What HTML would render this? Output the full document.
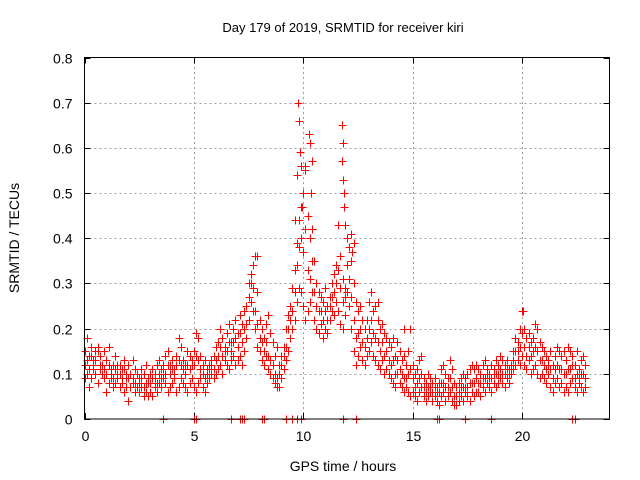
<!DOCTYPE html>
<html><head><meta charset="utf-8"><style>
html,body{margin:0;padding:0;background:#fff;}
svg{display:block;font-family:"Liberation Sans",sans-serif;}
</style></head><body>
<svg id="chart" width="640" height="480">
<text x="343" y="32" font-size="13" text-anchor="middle">Day 179 of 2019, SRMTID for receiver kiri</text>
<text x="343" y="471" font-size="14" text-anchor="middle">GPS time / hours</text>
<text transform="translate(19,238) rotate(-90)" font-size="14" text-anchor="middle">SRMTID / TECUs</text>
<g id="grid"></g><g id="ticks"></g><g id="marks"></g>
<rect x="84.5" y="57.5" width="525" height="361.5" fill="none" stroke="#000" stroke-width="1" shape-rendering="crispEdges"/>
</svg>
<script>
const xTicks=[0,5,10,15,20];
const yTicks=[0,0.1,0.2,0.3,0.4,0.5,0.6,0.7,0.8];
const yTickLabels=["0","0.1","0.2","0.3","0.4","0.5","0.6","0.7","0.8"];
const step=0.1;
const seriesHigh=[.15,.18,.14,.16,.13,.15,.16,.14,.12,.15,.13,.16,.11,.12,.14,.10,.12,.11,.13,.10,.12,.10,.13,.11,.10,.09,.11,.10,.12,.09,.10,.11,.09,.12,.13,.11,.12,.14,.15,.12,.13,.11,.14,.18,.16,.13,.12,.15,.14,.13,.15,.19,.18,.14,.12,.13,.11,.12,.13,.14,.16,.17,.20,.18,.15,.19,.21,.17,.20,.22,.19,.23,.21,.24,.25,.30,.32,.34,.36,.28,.22,.20,.18,.21,.23,.19,.17,.14,.16,.12,.14,.16,.20,.23,.25,.29,.33,.39,.44,.47,.50,.56,.45,.40,.42,.35,.30,.28,.27,.26,.29,.25,.27,.30,.32,.34,.43,.36,.31,.29,.40,.38,.35,.30,.26,.24,.25,.22,.20,.22,.26,.28,.24,.25,.22,.20,.21,.19,.18,.17,.16,.18,.14,.17,.15,.13,.14,.12,.15,.20,.12,.10,.11,.13,.14,.09,.08,.10,.09,.08,.09,.07,.08,.11,.12,.10,.09,.13,.11,.08,.07,.08,.09,.10,.09,.10,.11,.12,.11,.12,.11,.10,.12,.13,.11,.10,.12,.11,.13,.12,.14,.13,.12,.13,.11,.12,.15,.18,.17,.20,.24,.20,.18,.19,.17,.18,.21,.20,.17,.16,.15,.14,.13,.15,.12,.14,.16,.15,.14,.15,.13,.16,.15,.14,.12,.15,.11,.13,.14,.12];
const seriesMid=[.12,.13,.11,.14,.12,.13,.15,.11,.12,.11,.10,.12,.10,.09,.11,.12,.10,.09,.11,.09,.09,.10,.09,.08,.10,.08,.09,.07,.08,.08,.08,.09,.10,.08,.10,.09,.11,.10,.12,.10,.11,.10,.12,.13,.12,.11,.10,.12,.11,.12,.12,.14,.13,.11,.10,.09,.10,.11,.12,.11,.13,.14,.16,.14,.16,.15,.17,.15,.17,.18,.16,.19,.17,.20,.21,.27,.30,.29,.24,.21,.18,.17,.15,.17,.14,.13,.12,.10,.09,.10,.12,.14,.16,.20,.22,.24,.28,.34,.38,.40,.37,.42,.33,.31,.35,.28,.25,.24,.24,.22,.24,.22,.25,.27,.28,.30,.33,.29,.26,.27,.34,.31,.27,.22,.18,.19,.20,.17,.16,.18,.20,.22,.19,.18,.17,.15,.17,.14,.15,.13,.12,.13,.10,.13,.11,.10,.09,.09,.10,.11,.09,.07,.08,.09,.10,.07,.06,.07,.07,.06,.07,.06,.06,.08,.08,.07,.07,.09,.07,.05,.05,.06,.07,.07,.07,.07,.08,.08,.08,.09,.08,.08,.09,.09,.10,.09,.09,.10,.10,.10,.11,.10,.10,.11,.10,.11,.13,.15,.15,.16,.19,.16,.14,.16,.14,.15,.16,.15,.13,.13,.12,.11,.12,.11,.09,.11,.12,.11,.11,.10,.10,.11,.11,.12,.09,.10,.09,.10,.10,.09];
const seriesLow=[.09,.10,.07,.09,.11,.10,.08,.12,.10,.09,.06,.08,.09,.07,.08,.09,.07,.08,.06,.07,.04,.07,.08,.06,.07,.06,.07,.05,.06,.05,.06,.05,.07,.06,.08,.07,.09,.08,.06,.07,.08,.09,.06,.07,.09,.08,.07,.06,.08,.09,.07,.06,.08,.09,.07,.06,.08,.09,.10,.09,.10,.11,.12,.10,.13,.12,.11,.13,.14,.12,.13,.14,.12,.15,.18,.22,.26,.24,.20,.16,.15,.13,.12,.14,.11,.10,.09,.08,.07,.07,.09,.11,.13,.15,.18,.20,.22,.26,.29,.28,.25,.22,.24,.26,.28,.22,.20,.19,.21,.18,.20,.19,.22,.24,.23,.26,.24,.21,.20,.23,.28,.25,.20,.15,.12,.14,.16,.13,.12,.14,.15,.17,.14,.13,.12,.11,.13,.10,.11,.10,.09,.08,.07,.10,.08,.07,.06,.07,.06,.05,.06,.05,.04,.06,.07,.05,.04,.05,.06,.04,.05,.04,.03,.05,.06,.04,.05,.06,.04,.03,.03,.04,.05,.04,.06,.05,.04,.06,.05,.06,.06,.05,.07,.06,.08,.07,.06,.08,.07,.08,.09,.08,.07,.09,.08,.10,.11,.12,.13,.12,.14,.12,.11,.13,.10,.11,.12,.10,.09,.10,.09,.08,.10,.07,.06,.08,.09,.07,.08,.06,.07,.06,.08,.09,.07,.06,.08,.07,.06,.07];
const peakTimes=[9.6,9.7,9.75,9.8,9.85,9.9,9.95,10.1,10.25,10.3,10.35,10.4,11.75,11.78,11.8,11.82,11.85,11.87,11.9,12.2,12.25,12.3,7.9,13.4,14.6,20.05];
const peakValues=[.44,.54,.70,.66,.59,.56,.47,.55,.63,.61,.50,.57,.65,.57,.61,.53,.50,.47,.43,.41,.37,.39,.36,.26,.20,.24];
const zeroTimes=[3.6,5.0,5.1,6.7,7.1,7.2,7.3,8.1,8.2,9.2,9.5,9.7,9.9,11.8,12.4,16.1,16.2,17.4,18.6,22.3,22.4];

const X0=84.5,X1=609.5,Y0=419,Y1=57.5;
const xs=t=>X0+(X1-X0)*t/24;
const ys=v=>Y0-(Y0-Y1)*v/0.8;
const NS='http://www.w3.org/2000/svg';
const grid=document.getElementById('grid'),ticks=document.getElementById('ticks'),marks=document.getElementById('marks');
function mk(tag,a,p){const e=document.createElementNS(NS,tag);for(const k in a)e.setAttribute(k,a[k]);p.appendChild(e);return e;}
xTicks.forEach(t=>{const x=Math.round(xs(t))+0.5;
 if(t>0){const g=mk('line',{x1:x,y1:Y0,x2:x,y2:Y1,stroke:'#a0a0a0','stroke-dasharray':'2,3','shape-rendering':'crispEdges'},grid);
 
 }
 mk('line',{x1:x,y1:Y0,x2:x,y2:Y0-6,stroke:'#000','shape-rendering':'crispEdges'},ticks);
 mk('line',{x1:x,y1:Y1,x2:x,y2:Y1+6,stroke:'#000','shape-rendering':'crispEdges'},ticks);
 const l=mk('text',{x:x,y:Y0+22,'font-size':14,'text-anchor':'middle'},ticks);l.textContent=t;
 
 });
yTicks.forEach((v,i)=>{const y=Math.round(ys(v))+0.5;
 if(v>0&&v<0.8){const g=mk('line',{x1:X0,y1:y,x2:X1,y2:y,stroke:'#a0a0a0','stroke-dasharray':'2,3','shape-rendering':'crispEdges'},grid);
 
 }
 mk('line',{x1:X0,y1:y,x2:X0+6,y2:y,stroke:'#000','shape-rendering':'crispEdges'},ticks);
 mk('line',{x1:X1,y1:y,x2:X1-6,y2:y,stroke:'#000','shape-rendering':'crispEdges'},ticks);
 const l=mk('text',{x:X0-12,y:y+5,'font-size':14,'text-anchor':'end'},ticks);l.textContent=yTickLabels[i];
 
 });
let d='';
function cross(t,v){const x=Math.round(xs(t))+0.5,y=Math.round(ys(v))+0.5;d+=`M${x-4} ${y}h8M${x} ${y-4}v8`;}
[seriesHigh,seriesMid,seriesLow].forEach(s=>s.forEach((v,i)=>cross(i*step,v)));
peakValues.forEach((v,i)=>cross(peakTimes[i],v));
zeroTimes.forEach(t=>cross(t,0));
const p=mk('path',{d:d,stroke:'#ff0000','stroke-width':1,fill:'none','shape-rendering':'crispEdges'},marks);


</script>
</body></html>
